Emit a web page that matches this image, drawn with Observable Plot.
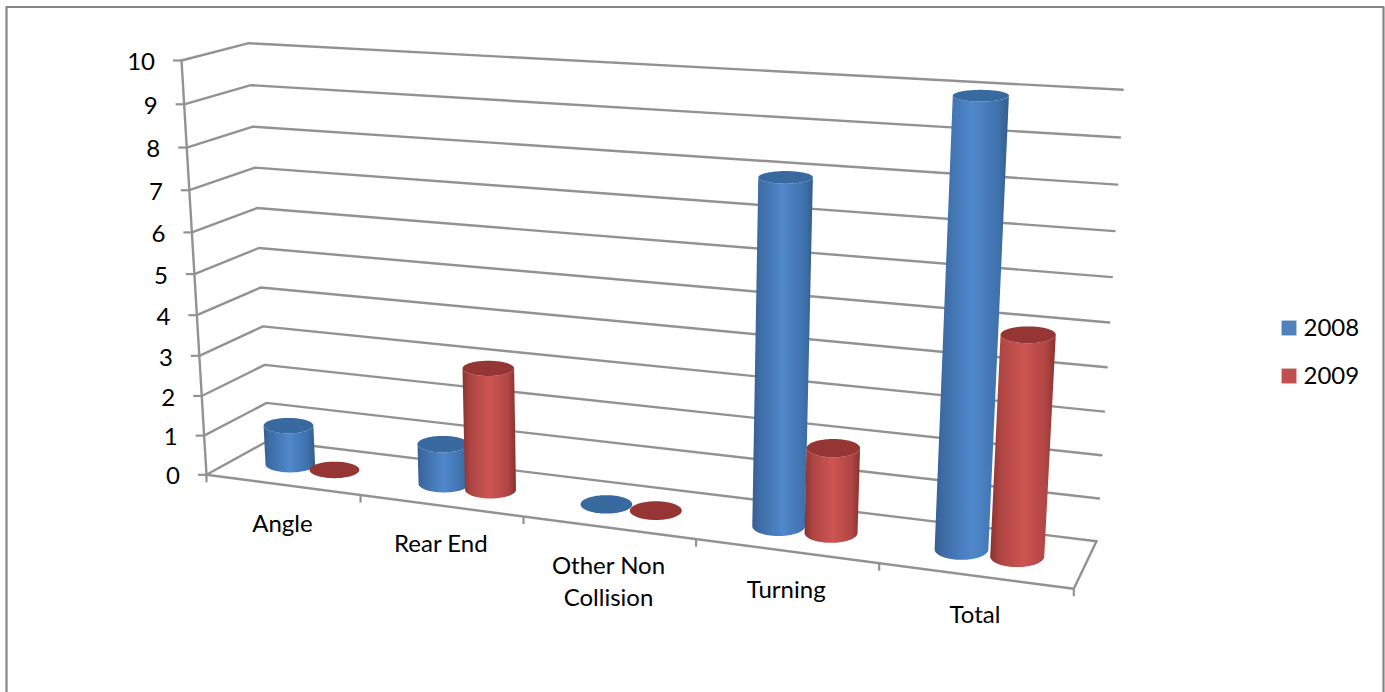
<!DOCTYPE html>
<html>
<head>
<meta charset="utf-8">
<script src="https://cdn.jsdelivr.net/npm/d3@7"></script>
<script src="https://cdn.jsdelivr.net/npm/@observablehq/plot@0.6"></script>
<style>
html,body{margin:0;padding:0;background:#fff;overflow:hidden}
svg{display:block}
</style>
</head>
<body>
<div id="chart"></div>
<script>
const categories = ["Angle", "Rear End", "Other Non\nCollision", "Turning", "Total"];
const values2008 = [1, 1, 0, 8, 10];
const values2009 = [0, 3, 0, 2, 5];
const seriesNames = ["2008", "2009"];
const yTicks = [0, 1, 2, 3, 4, 5, 6, 7, 8, 9, 10];

const FONT = "Lato, 'Open Sans', sans-serif";
const FS = 24;
const GRID = "#929292";

// Perspective frame of the 3-D chart box
const proj = (s, k) => k * s / (1 + (k - 1) * s);
const lerp = (a, b, t) => a + (b - a) * t;
const floorF = [[206, 474.3], [1073.3, 588.3]], floorB = [[268, 440], [1096, 540.7]];
const topF = [[181, 60], [1100, 116]], topB = [[248.3, 42.7], [1122.3, 89.3]];
function bil(F, B, t, d) {
  return [0, 1].map(i => lerp(lerp(F[0][i], F[1][i], t), lerp(B[0][i], B[1][i], t), d));
}
function P(s, d, v) {
  const t = proj(s, 0.864), h = proj(v / 10, 0.94);
  const a = bil(floorF, floorB, t, d), b = bil(topF, topB, t, d);
  return {x: lerp(a[0], b[0], h), y: lerp(a[1], b[1], h)};
}

// Grid lines: front-left -> back-left -> back-right
const gridPts = yTicks.flatMap(v => [P(0, 0, v), P(0, 1, v), P(1, 1, v)].map(p => ({...p, v})));
const floorPts = [P(0, 0, 0), P(1, 0, 0), P(1, 1, 0)];
const axisPts = [P(0, 0, 0), P(0, 0, 10)];
const yTickSegs = yTicks.map(v => { const p = P(0, 0, v); return {x1: p.x - 8, x2: p.x, y: p.y}; });
const catTicks = d3.range(categories.length + 1).map(i => { const p = P(i / categories.length, 0, 0); return {x: p.x, y1: p.y, y2: p.y + 8}; });
const yLabels = yTicks.map(v => { const p = P(0, 0, v); return {x: p.x - 26.5, y: p.y + 2, t: String(v)}; });
const catLabels = categories.map((c, i) => { const p = P((i + 0.5) / categories.length, 0, 0); return {x: p.x, y: p.y + 24, t: c}; });

// Cylinders
const bars = categories.flatMap((c, i) => [
  {i, o: 0.357, v: values2008[i], body: "url(#bBlue)", cap: "#386a9f"},
  {i, o: 0.65, v: values2009[i], body: "url(#bRed)", cap: "#963634"}
]);
const TH = d3.range(0, 49).map(a => a / 48 * Math.PI);
function cylinder(b) {
  const s = (b.i + b.o) / categories.length;
  const rx = v => 24.6 + 2.6 * s + 0.12 * v;
  const ry = v => {
    const a = P(s, 0, v), c = P(s, 1, v);
    return Math.abs(a.y - c.y) * 0.23;
  };
  const c0 = P(s, 0.5, 0), c1 = P(s, 0.5, b.v);
  const half = (c, r, q, sign) => TH.map(a => ({x: c.x + r * Math.cos(a) * sign, y: c.y + q * Math.sin(a) * sign}));
  const bodyPts = [
    ...half(c0, rx(0), ry(0), 1),
    ...half(c1, rx(b.v), ry(b.v), 1).reverse()
  ];
  const capPts = [...half(c1, rx(b.v), ry(b.v), 1), ...half(c1, rx(b.v), ry(b.v), -1)];
  const out = [];
  if (b.v > 0) out.push(Plot.line(bodyPts, {x: "x", y: "y", fill: b.body, stroke: "none"}));
  out.push(Plot.line(capPts, {x: "x", y: "y", fill: b.cap, stroke: "none"}));
  return out;
}

const legend = seriesNames.map((n, i) => ({n, c: ["#4f81bd", "#c0504d"][i], y: [327.5, 375.5][i]}));

const defs = () => d3.create("svg:g").html(`<defs>
<linearGradient id="bBlue" x1="0" x2="1" y1="0" y2="0">
<stop offset="0" stop-color="#365f91"/><stop offset="0.12" stop-color="#3d6ca6"/><stop offset="0.5" stop-color="#4f88cc"/><stop offset="0.85" stop-color="#3f72ad"/><stop offset="1" stop-color="#345d8e"/>
</linearGradient>
<linearGradient id="bRed" x1="0" x2="1" y1="0" y2="0">
<stop offset="0" stop-color="#8c3230"/><stop offset="0.15" stop-color="#ad4543"/><stop offset="0.5" stop-color="#cd5552"/><stop offset="0.85" stop-color="#b04644"/><stop offset="1" stop-color="#8a302e"/>
</linearGradient></defs>`).node();

const chart = Plot.plot({
  width: 1385, height: 692,
  margin: 0,
  style: {background: "#fff", fontFamily: FONT},
  x: {domain: [0, 1385], range: [0, 1385], axis: null},
  y: {domain: [0, 692], range: [0, 692], axis: null},
  marks: [
    defs,
    Plot.line([{x: 6, y: 700}, {x: 6, y: 6.5}, {x: 1383, y: 6.5}, {x: 1383, y: 700}], {x: "x", y: "y", stroke: "#868686", strokeWidth: 2.2}),
    Plot.line(gridPts, {x: "x", y: "y", z: "v", stroke: GRID, strokeWidth: 2.4, strokeLinejoin: "miter"}),
    Plot.line(floorPts, {x: "x", y: "y", stroke: GRID, strokeWidth: 2.4}),
    Plot.line(axisPts, {x: "x", y: "y", stroke: GRID, strokeWidth: 2.4}),
    Plot.ruleY(yTickSegs, {x1: "x1", x2: "x2", y: "y", stroke: GRID, strokeWidth: 2.2}),
    Plot.ruleX(catTicks, {x: "x", y1: "y1", y2: "y2", stroke: GRID, strokeWidth: 2.2}),
    ...bars.flatMap(cylinder),
    Plot.text(yLabels, {x: "x", y: "y", text: "t", textAnchor: "end", fontSize: FS, fill: "#000", fontFamily: FONT}),
    Plot.text(catLabels, {x: "x", y: "y", text: "t", textAnchor: "middle", lineAnchor: "top", lineHeight: 1.333, fontSize: FS, fill: "#000", fontFamily: FONT}),
    Plot.dot(legend, {x: () => 1288.5, y: "y", symbol: "square", r: 8.4, fill: "c", stroke: "none"}),
    Plot.text(legend, {x: () => 1303, y: "y", text: "n", textAnchor: "start", fontSize: FS, fill: "#000", fontFamily: FONT})
  ]
});
document.getElementById("chart").append(chart);
</script>
</body>
</html>
